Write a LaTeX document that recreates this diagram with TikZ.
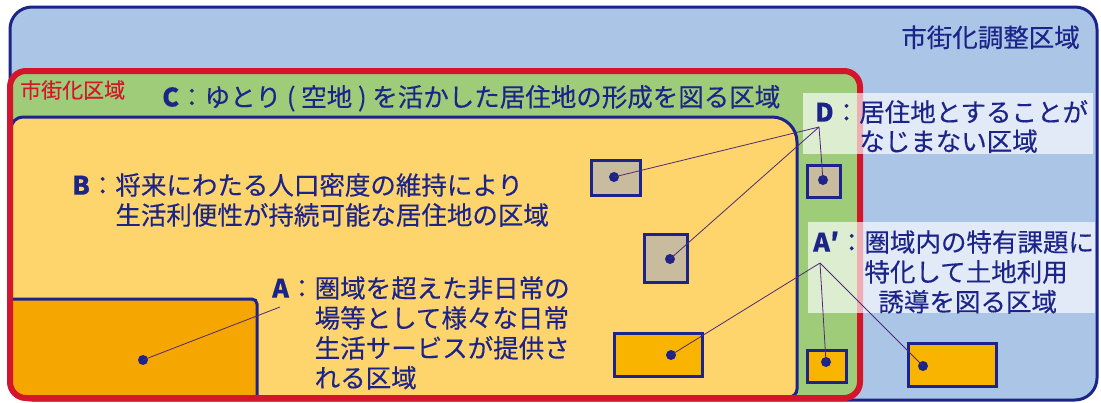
\documentclass[tikz,border=0pt]{standalone}
\usepackage{fontspec}
\newfontfamily\jp[FakeBold=0.3]{Noto Sans CJK JP}
\definecolor{navy}{RGB}{28,36,138}
\definecolor{skyfill}{RGB}{170,197,230}
\definecolor{redline}{RGB}{212,22,44}
\definecolor{greenfill}{RGB}{158,204,120}
\definecolor{yellowfill}{RGB}{253,213,108}
\definecolor{orangeA}{RGB}{246,166,0}
\definecolor{orangeB}{RGB}{249,180,0}
\definecolor{tanfill}{RGB}{201,187,157}
\definecolor{leader}{RGB}{80,40,120}
\begin{document}
\begin{tikzpicture}[x=1pt,y=-1pt,
  box/.style={draw=navy,line width=3pt,inner sep=0pt,rectangle},
  dot/.style={circle,fill=navy,inner sep=0pt,minimum size=10pt},
  lead/.style={draw=leader,line width=0.8pt},
  lbl/.style={inner sep=0pt,text=navy,font=\jp\fontsize{25.5}{28}\selectfont},
  lbld/.style={inner sep=0pt,text=navy,font=\jp\fontsize{25.5}{26}\selectfont},
  whitebox/.style={fill=white,opacity=0.65}]
\useasboundingbox (0,0) rectangle (1101,402);
\fill[white] (0,0) rectangle (1101,402);
% outer region
\draw[draw=navy,line width=3pt,fill=skyfill,rounded corners=22] (10,7) rectangle (1097,400);
% urbanisation area contents, clipped to its rounded outline
\begin{scope}
\clip[rounded corners=16] (10,71) rectangle (860,398);
\fill[greenfill] (10,71) rectangle (860,398);
\path[fill=yellowfill,draw=navy,line width=3pt] (11,397) [rounded corners=12] -- (11,117) [rounded corners=25] -- (797,117) [rounded corners=8] -- (797,397) [sharp corners] -- cycle;
\fill[orangeA] (10,299) rectangle (257,398);
\draw[navy,line width=3pt,rounded corners=5] (10,299) -- (257,299) -- (257,398);
\end{scope}
% red border
\draw[redline,line width=6pt,rounded corners=16] (10,71) rectangle (860,398);
% white label backgrounds
\fill[whitebox] (803,93) rectangle (1093,154);
\fill[whitebox] (808,222) rectangle (1095,313);
% small boxes
\node[box,fill=tanfill,minimum width=49,minimum height=35] (d1) at (616,178) {};
\node[box,fill=tanfill,minimum width=43,minimum height=48] (d2) at (666,258.5) {};
\node[box,fill=tanfill,minimum width=33,minimum height=32] (d3) at (824,181.5) {};
\node[box,fill=orangeB,minimum width=88,minimum height=43] (a1) at (658.5,355) {};
\node[box,fill=orangeB,minimum width=39,minimum height=32] (a2) at (827,366.5) {};
\node[box,fill=orangeB,minimum width=88,minimum height=43] (a3) at (952.5,365) {};
% anchors
\coordinate (dAnc) at (819,127);
\coordinate (apAnc) at (820,263);
\coordinate (aAnc) at (280,307);
% dots
\node[dot] (dd1) at (614,177) {};
\node[dot] (dd2) at (670,259) {};
\node[dot] (dd3) at (823,180) {};
\node[dot] (da1) at (671,355) {};
\node[dot] (da2) at (826,362) {};
\node[dot] (da3) at (923,366) {};
\node[dot] (da) at (143,360) {};
% leaders
\draw[lead] (dAnc) -- (dd1.center);
\draw[lead] (dAnc) -- (dd2.center);
\draw[lead] (dAnc) -- (dd3.center);
\draw[lead] (apAnc) -- (da1.center);
\draw[lead] (apAnc) -- (da2.center);
\draw[lead] (apAnc) -- (da3.center);
\draw[lead] (aAnc) -- (da.center);
% texts
\node[lbl,anchor=base east] (chosei) at (1080,47) {市街化調整区域};
\node[anchor=base west,inner sep=0pt,text=redline,font=\jp\fontsize{21}{24}\selectfont] (shigai) at (20,98) {市街化区域};
\node[lbl,anchor=base west] (ctext) at (162,106.5) {\textbf{C}：ゆとり ( 空地 ) を活かした居住地の形成を図る区域};
\node[lbl,anchor=base west] (btext) at (72,194.7) {\begin{tabular}[t]{@{}l@{}l@{}}\textbf{B}：&将来にわたる人口密度の維持により\\&生活利便性が持続可能な居住地の区域\end{tabular}};
\node[lbl,anchor=base west] (atext) at (272,297.7) {\begin{tabular}[t]{@{}l@{}l@{}}\textbf{A}：&圏域を超えた非日常の\\&場等として様々な日常\\&生活サービスが提供さ\\&れる区域\end{tabular}};
\node[lbld,anchor=base west] (dtext) at (815,121.7) {\begin{tabular}[t]{@{}l@{}l@{}}\textbf{D}：&居住地とすることが\\&なじまない区域\end{tabular}};
\node[lbl,anchor=base west] (aptext) at (813,251.7) {\begin{tabular}[t]{@{}l@{}l@{}}\textbf{A′}：&圏域内の特有課題に\\&特化して土地利用\\&\hspace{14pt}誘導を図る区域\end{tabular}};
\end{tikzpicture}
\end{document}
